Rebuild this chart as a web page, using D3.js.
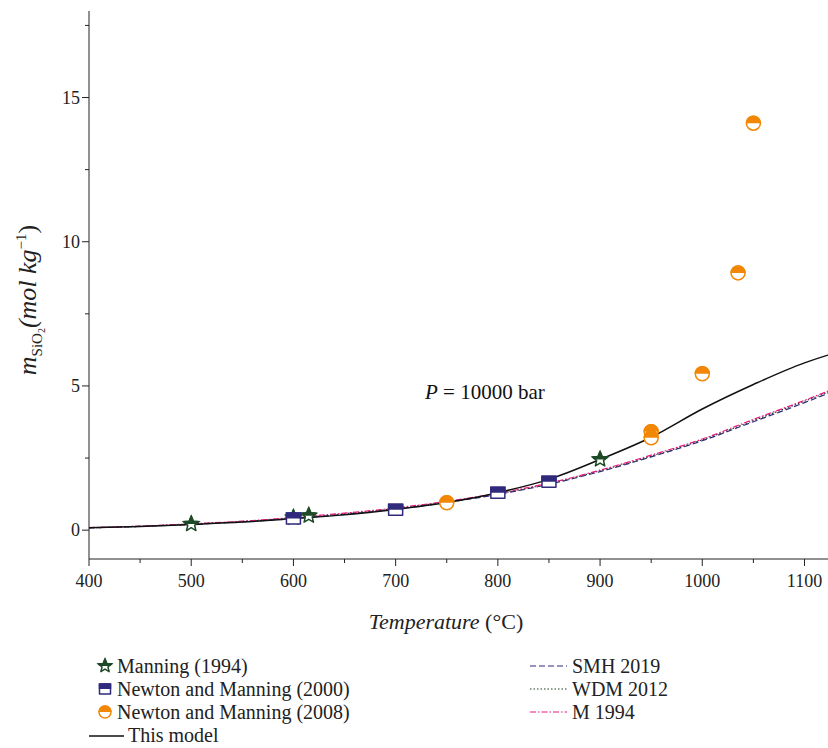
<!DOCTYPE html>
<html>
<head>
<meta charset="utf-8">
<script src="https://cdn.jsdelivr.net/npm/d3@7"></script>
<style>
  body { margin: 0; background: #fff; }
  svg { display: block; font-family: "Liberation Serif", "DejaVu Serif", serif; }
</style>
</head>
<body>
<svg id="chart" width="828" height="748"></svg>
<script>
// temperature grid for the model curves (°C)
const curveT = [400, 450, 500, 550, 600, 650, 700, 750, 800, 850, 900, 950, 1000, 1050, 1100, 1123];
const thisModel = [0.08, 0.13, 0.2, 0.28, 0.4, 0.53, 0.72, 0.96, 1.3, 1.76, 2.45, 3.22, 4.2, 5.05, 5.8, 6.07];
const smh2019 = [0.08, 0.13, 0.2, 0.29, 0.41, 0.55, 0.73, 0.96, 1.24, 1.59, 2.03, 2.54, 3.1, 3.76, 4.42, 4.74];
const wdm2012 = [0.08, 0.13, 0.21, 0.3, 0.42, 0.57, 0.75, 0.98, 1.26, 1.61, 2.06, 2.57, 3.13, 3.8, 4.47, 4.78];
const m1994 = [0.09, 0.14, 0.22, 0.31, 0.44, 0.59, 0.77, 1.0, 1.28, 1.63, 2.08, 2.6, 3.16, 3.84, 4.5, 4.82];

// measurements
const manningT = [500, 600, 615, 900];
const manningM = [0.21, 0.43, 0.5, 2.45];
const nm2000T = [600, 700, 800, 850];
const nm2000M = [0.4, 0.71, 1.3, 1.68];
const nm2008T = [750, 950, 950, 1000, 1035, 1050];
const nm2008M = [0.95, 3.41, 3.2, 5.42, 8.92, 14.11];

const xMajor = [400, 500, 600, 700, 800, 900, 1000, 1100];
const xMinor = [450, 550, 650, 750, 850, 950, 1050];
const yMajor = [0, 5, 10, 15];
const yMinor = [2.5, 7.5, 12.5, 17.5];

const svg = d3.select("#chart");
const x = d3.scaleLinear().domain([400, 1123]).range([89, 828]);
const y = d3.scaleLinear().domain([-1, 18]).range([559, 11]);

const cGreen = "#1d4b27", cNavy = "#2f2a7c", cOrange = "#f28705", cPink = "#e8197f";

// half-fill clip (top half of each marker)
svg.append("defs").append("clipPath").attr("id", "tophalf")
  .append("rect").attr("x", -20).attr("y", -20).attr("width", 40).attr("height", 20);

// axes
const axisG = svg.append("g").attr("stroke", "#222").attr("stroke-width", 1);
axisG.append("line").attr("x1", x(400)).attr("x2", 828).attr("y1", y(-1)).attr("y2", y(-1));
axisG.append("line").attr("x1", x(400)).attr("x2", x(400)).attr("y1", y(-1)).attr("y2", y(18));
axisG.selectAll(".xt").data(xMajor).join("line")
  .attr("x1", d => x(d)).attr("x2", d => x(d)).attr("y1", y(-1)).attr("y2", y(-1) + 7);
axisG.selectAll(".xm").data(xMinor).join("line")
  .attr("x1", d => x(d)).attr("x2", d => x(d)).attr("y1", y(-1)).attr("y2", y(-1) + 4);
axisG.selectAll(".yt").data(yMajor).join("line")
  .attr("x1", x(400) - 7).attr("x2", x(400)).attr("y1", d => y(d)).attr("y2", d => y(d));
axisG.selectAll(".ym").data(yMinor).join("line")
  .attr("x1", x(400) - 4).attr("x2", x(400)).attr("y1", d => y(d)).attr("y2", d => y(d));

svg.selectAll(".xl").data(xMajor).join("text")
  .attr("x", d => x(d)).attr("y", y(-1) + 28).attr("text-anchor", "middle")
  .attr("font-size", 18).attr("fill", "#222").text(d => d);
svg.selectAll(".yl").data(yMajor).join("text")
  .attr("x", x(400) - 9).attr("y", d => y(d) + 6).attr("text-anchor", "end")
  .attr("font-size", 18).attr("fill", "#222").text(d => d);

// axis titles
const xt = svg.append("text").attr("x", 446).attr("y", 629).attr("text-anchor", "middle")
  .attr("font-size", 22).attr("fill", "#222");
xt.append("tspan").attr("font-style", "italic").text("Temperature");
xt.append("tspan").text(" (°C)");

const yt = svg.append("text").attr("transform", "translate(36,300) rotate(-90)")
  .attr("text-anchor", "middle").attr("font-size", 26).attr("fill", "#222");
yt.append("tspan").attr("font-style", "italic").text("m");
yt.append("tspan").attr("font-size", 15).attr("dy", 6).text("SiO");
yt.append("tspan").attr("font-size", 10).attr("dy", 3).text("2");
yt.append("tspan").attr("dy", -9).attr("font-style", "italic").text("(mol kg");
yt.append("tspan").attr("font-size", 15).attr("dy", -10).text("−1");
yt.append("tspan").attr("dy", 10).text(")");

// annotation
const ann = svg.append("text").attr("x", 425).attr("y", 399).attr("font-size", 21).attr("fill", "#111");
ann.append("tspan").attr("font-style", "italic").text("P");
ann.append("tspan").text(" = 10000 bar");

// curves
const line = d3.line().x(d => x(d[0])).y(d => y(d[1])).curve(d3.curveMonotoneX);
const curves = [
  { vals: smh2019, color: cNavy, dash: "6,3", w: 1.2 },
  { vals: wdm2012, color: "#1c3d22", dash: "1.5,2", w: 1.2 },
  { vals: m1994, color: cPink, dash: "6,2,1.5,2", w: 1.2 },
  { vals: thisModel, color: "#111", dash: null, w: 1.5 }
];
curves.forEach(c => {
  svg.append("path").datum(curveT.map((t, i) => [t, c.vals[i]]))
    .attr("d", line).attr("fill", "none").attr("stroke", c.color)
    .attr("stroke-width", c.w).attr("stroke-dasharray", c.dash);
});

// marker shapes
function starPath(R, r) {
  const pts = [];
  for (let i = 0; i < 10; i++) {
    const a = -Math.PI / 2 + i * Math.PI / 5;
    const rad = i % 2 === 0 ? R : r;
    pts.push([rad * Math.cos(a), rad * Math.sin(a)]);
  }
  return "M" + pts.map(p => p.join(",")).join("L") + "Z";
}
const shapes = {
  star: starPath(8, 3.6),
  square: "M-7,-5.5L7,-5.5L7,5.5L-7,5.5Z",
  circle: d3.arc()({ innerRadius: 0, outerRadius: 7, startAngle: 0, endAngle: 2 * Math.PI }),
  starSm: starPath(7, 3.1),
  squareSm: "M-5.5,-5L5.5,-5L5.5,5L-5.5,5Z",
  circleSm: d3.arc()({ innerRadius: 0, outerRadius: 6, startAngle: 0, endAngle: 2 * Math.PI })
};
function marker(g, shape, color) {
  g.append("path").attr("d", shapes[shape]).attr("fill", "#fff")
    .attr("stroke", color).attr("stroke-width", 1.5).attr("stroke-linejoin", "round");
  g.append("path").attr("d", shapes[shape]).attr("fill", color)
    .attr("stroke", color).attr("stroke-width", 1.5).attr("clip-path", "url(#tophalf)");
}
function drawSet(T, M, shape, color) {
  T.forEach((t, i) => {
    marker(svg.append("g").attr("transform", `translate(${x(t)},${y(M[i])})`), shape, color);
  });
}
drawSet(manningT, manningM, "star", cGreen);
drawSet(nm2000T, nm2000M, "square", cNavy);
drawSet(nm2008T, nm2008M, "circle", cOrange);

// legend
const leg = svg.append("g").attr("font-size", 20).attr("fill", "#222");
const legLeft = [
  { shape: "starSm", color: cGreen, label: "Manning (1994)" },
  { shape: "squareSm", color: cNavy, label: "Newton and Manning (2000)" },
  { shape: "circleSm", color: cOrange, label: "Newton and Manning (2008)" }
];
legLeft.forEach((d, i) => {
  const cy = 666 + i * 23;
  marker(leg.append("g").attr("transform", `translate(105,${cy})`), d.shape, d.color);
  leg.append("text").attr("x", 117).attr("y", cy + 7).text(d.label);
});
leg.append("line").attr("x1", 89).attr("x2", 124).attr("y1", 736).attr("y2", 736)
  .attr("stroke", "#111").attr("stroke-width", 1.5);
leg.append("text").attr("x", 128).attr("y", 742).text("This model");

const legRight = [
  { c: curves[0], label: "SMH 2019" },
  { c: curves[1], label: "WDM 2012" },
  { c: curves[2], label: "M 1994" }
];
legRight.forEach((d, i) => {
  const cy = 666 + i * 23;
  leg.append("line").attr("x1", 530).attr("x2", 567).attr("y1", cy).attr("y2", cy)
    .attr("stroke", d.c.color).attr("stroke-width", 1.2).attr("stroke-dasharray", d.c.dash);
  leg.append("text").attr("x", 572).attr("y", cy + 7).text(d.label);
});
</script>
</body>
</html>
